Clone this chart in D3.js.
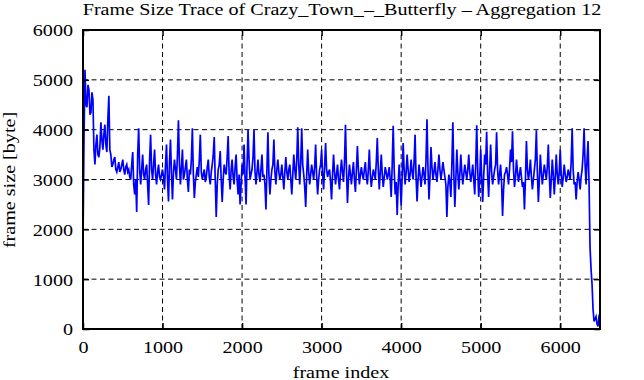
<!DOCTYPE html>
<html><head><meta charset="utf-8">
<script src="https://cdn.jsdelivr.net/npm/d3@7"></script>
<style>
html,body{margin:0;padding:0;background:#fff;}
svg{display:block;}
text{font-family:"Liberation Serif","Times New Roman",serif;fill:#000;}
</style></head>
<body>
<svg id="chart" width="644" height="380"></svg>
<script>
const titleText = "Frame Size Trace of Crazy_Town_\u2013_Butterfly \u2013 Aggregation 12";
const xLabel = "frame index";
const yLabel = "frame size [byte]";
const xTicks = [0, 1000, 2000, 3000, 4000, 5000, 6000];
const yTicks = [0, 1000, 2000, 3000, 4000, 5000, 6000];
const frameStep = 12.5;
const frameSize = [
1750,3800,5200,4500,4450,4900,4800,4300,4350,4750,4600,3600,3300,3700,3900,3500,3450,3650,4150,3800,
3600,3900,4100,3700,3550,4200,4680,3600,3500,3250,3300,3400,3450,3200,3150,3250,3350,3150,3200,3300,
3400,3200,3100,3250,3300,3150,3200,3050,3000,3300,3550,2900,2700,3000,2350,3500,4030,3200,2900,3200,
3500,3100,3000,3200,3300,2900,2490,3400,3900,3200,3000,3300,3600,3100,2900,3150,3300,3050,3000,3100,
3200,3050,2800,3300,3700,3000,2560,3350,3800,3100,2600,3150,3400,3200,3000,3500,4190,3300,2900,3250,
3600,3000,3100,3250,3400,3000,2750,3200,3100,3400,4030,3100,2630,2950,3100,3250,3050,3400,3900,3150,
3000,3100,3200,2950,3050,3250,3400,3050,2900,3150,3300,3500,3850,3000,2250,2900,3200,3300,3570,3000,
2550,3000,3300,3150,3100,3450,3870,3100,2800,3200,3400,3050,2900,3250,3500,3000,2700,3100,2500,2900,
3300,3100,3700,3050,2500,3300,4000,3400,3000,3100,3200,3450,4000,3150,2900,3150,3400,3100,2950,3200,
3500,3050,3100,2900,2400,3200,3950,3100,2700,3000,3200,3300,3800,3150,2900,3200,3400,3150,3000,3100,
3300,3050,2800,3150,3450,3150,3000,3200,3300,3000,2700,3100,3500,3200,3000,3400,4050,3300,2900,3350,
4030,3300,3100,2850,2450,3100,3600,3150,2900,3100,3300,3150,3000,3250,3700,3050,2700,3000,3200,3300,
3600,3100,2800,3250,3730,3200,3050,3150,3200,2950,2600,3100,3500,3150,2900,3100,3300,3000,2800,3150,
3400,3150,2950,3350,4100,3200,2530,3000,3300,3100,2900,3150,3350,3000,2750,3200,3670,3200,2900,3100,
3250,3100,3000,3200,3350,3050,2900,3200,3600,3100,2850,3050,3200,3100,3000,3350,3830,3200,2800,3150,
3500,3100,2850,3050,3250,3150,3000,3100,3250,3000,2650,3300,4080,3200,2700,2950,2290,2900,3300,2950,
2480,3050,3730,3200,2900,3150,3500,3200,2950,3100,3400,3150,3000,3350,3900,3050,2560,3000,3300,3100,
2850,3050,3250,3100,2900,3400,4210,3200,2600,3050,3650,3250,3000,3150,3350,3100,2950,3200,3500,3200,
3000,3150,3350,3200,3050,2900,2250,2850,3100,2950,2650,3300,4150,3100,2450,3000,3600,3150,2800,3100,
3500,3150,2900,3100,3300,3150,3000,3200,3500,3150,2950,3100,3300,3000,2700,3300,4090,3200,2650,3000,
3600,3050,2550,3050,3500,3300,3960,3100,2650,3200,3700,3150,2900,3050,3200,3300,3950,3200,2900,3100,
3300,2950,2270,2800,3100,3150,3250,3100,2900,3200,3600,3350,3970,3200,2850,3050,3400,3150,2950,3100,
3250,3050,2850,2950,2400,3000,3770,3200,3000,3150,3400,3050,2800,3000,3200,3400,3990,3150,2550,3000,
3500,3150,2900,3100,3300,3150,3000,3250,3700,3100,2630,3000,3400,3100,2700,3050,3500,3100,2900,3150,
3600,3100,2850,3050,3300,3100,2950,3050,3200,3100,3000,3350,4030,3200,2900,2950,2600,2950,3150,3000,
2800,3050,3200,3500,4030,3300,2900,3400,3770,2900,1630,1200,900,400,150,200,250,100,50,250,
220];
const frameIndex = frameSize.map((d, i) => i * frameStep);

const svg = d3.select("#chart");
const L = 83, R = 600, T = 30, B = 329;
const x = d3.scaleLinear().domain([0, 6500]).range([L, R]);
const y = d3.scaleLinear().domain([0, 6000]).range([B, T]);
const fs = 17.5, sx = 1.15;

// grid
const grid = svg.append("g").attr("stroke", "#000").attr("stroke-width", 1).attr("stroke-dasharray", "5,3.5");
grid.selectAll("line.v").data(xTicks.filter(d => d > 0)).join("line")
  .attr("x1", d => x(d)).attr("x2", d => x(d)).attr("y1", B).attr("y2", T);
grid.selectAll("line.h").data(yTicks.filter(d => d > 0 && d < 6000)).join("line")
  .attr("x1", L).attr("x2", R).attr("y1", d => y(d)).attr("y2", d => y(d));

// data line
const line = d3.line().x((d, i) => x(frameIndex[i])).y(d => y(d));
svg.append("path").datum(frameSize).attr("d", line)
  .attr("fill", "none").attr("stroke", "#0000ff").attr("stroke-width", 1.7).attr("stroke-linejoin", "miter");

// axes (inward ticks)
const axB = svg.append("g").attr("transform", `translate(0,${B})`)
  .call(d3.axisBottom(x).tickValues(xTicks).tickSize(-6).tickFormat(d3.format("d")));
const axL = svg.append("g").attr("transform", `translate(${L},0)`)
  .call(d3.axisLeft(y).tickValues(yTicks).tickSize(-6).tickFormat(d3.format("d")));
const axR = svg.append("g").attr("transform", `translate(${R},0)`)
  .call(d3.axisRight(y).tickValues(yTicks).tickSize(-6).tickFormat(""));
const axT = svg.append("g").attr("transform", `translate(0,${T})`)
  .call(d3.axisTop(x).tickValues(xTicks).tickSize(-6).tickFormat(""));
[axB, axL, axR, axT].forEach(a => {
  a.attr("font-family", null);
  a.select(".domain").remove();
  a.selectAll(".tick line").attr("stroke", "#000").attr("stroke-width", 1.5);
  a.selectAll("text").style("font-family", "'Liberation Serif', serif").attr("font-size", fs).attr("fill", "#000");
});
axB.selectAll(".tick text").attr("dy", "0").attr("y", 24).attr("transform", `scale(${sx},1)`);
axL.selectAll(".tick text").attr("x", -10 / sx).attr("dy", "0.34em").attr("transform", `scale(${sx},1)`);

// border
svg.append("rect").attr("x", L).attr("y", T).attr("width", R - L).attr("height", B - T)
  .attr("fill", "none").attr("stroke", "#000").attr("stroke-width", 2);

// title
svg.append("text").attr("transform", `translate(342,15) scale(${sx},1)`)
  .attr("text-anchor", "middle").attr("font-size", fs).text(titleText);
// x label
svg.append("text").attr("transform", `translate(341,377.5) scale(${sx},1)`)
  .attr("text-anchor", "middle").attr("font-size", fs).text(xLabel);
// y label
svg.append("text").attr("transform", `translate(14.5,180) rotate(-90) scale(${sx},1)`)
  .attr("text-anchor", "middle").attr("font-size", fs).text(yLabel);
</script>
</body></html>
